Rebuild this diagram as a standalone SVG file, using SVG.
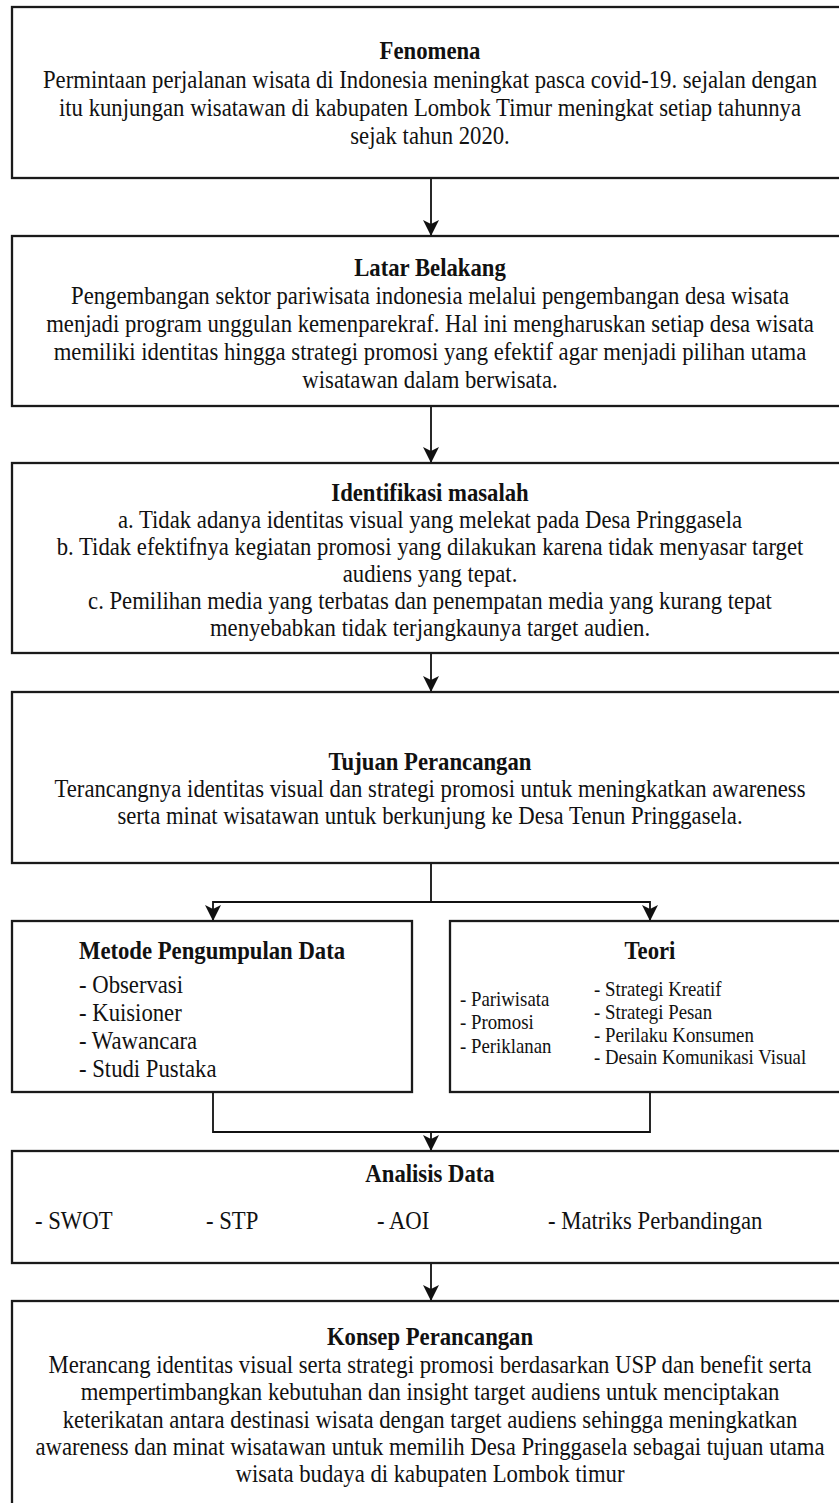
<svg xmlns="http://www.w3.org/2000/svg" width="839" height="1503" viewBox="0 0 839 1503">
<style>
.box{fill:#ffffff;stroke:#1a1a1a;stroke-width:2.3}
.t{font-family:"Liberation Serif","Times New Roman",serif;font-size:24.5px;fill:#111;text-anchor:middle}
.b{font-weight:bold}
.l{text-anchor:start}
.s{font-size:20.3px}
.c{fill:none;stroke:#111;stroke-width:1.8}
</style>
<defs>
<marker id="arr" viewBox="0 0 16 17" refX="16" refY="8" markerWidth="16" markerHeight="17" markerUnits="userSpaceOnUse" orient="auto">
<path d="M0,0 L16,8 L0,16 L4,8 Z" fill="#111"/>
</marker>
</defs>
<rect width="839" height="1503" fill="#ffffff"/>
<g id="connectors">
<path class="c" d="M431,178 V236" marker-end="url(#arr)"/>
<path class="c" d="M431,406 V463" marker-end="url(#arr)"/>
<path class="c" d="M431,653 V692" marker-end="url(#arr)"/>
<path class="c" d="M431,863 V902 H213 V921" marker-end="url(#arr)"/>
<path class="c" d="M431,902 H650 V921" marker-end="url(#arr)"/>
<path class="c" d="M213,1092 V1132 H650 V1092"/>
<path class="c" d="M431,1132 V1151" marker-end="url(#arr)"/>
<path class="c" d="M431,1263 V1301" marker-end="url(#arr)"/>
</g>
<g id="fenomena">
<rect class="box" x="12" y="7" width="836" height="171"/>
<text class="t b" x="0" y="59" transform="matrix(0.927 0 0 1 430 0)">Fenomena</text>
<text class="t" x="0" y="88" transform="matrix(0.927 0 0 1 430 0)">Permintaan perjalanan wisata di Indonesia meningkat pasca covid-19. sejalan dengan</text>
<text class="t" x="0" y="116" transform="matrix(0.927 0 0 1 430 0)">itu kunjungan wisatawan di kabupaten Lombok Timur meningkat setiap tahunnya</text>
<text class="t" x="0" y="144" transform="matrix(0.927 0 0 1 430 0)">sejak tahun 2020.</text>
</g>
<g id="latar">
<rect class="box" x="12" y="236" width="836" height="170"/>
<text class="t b" x="0" y="276" transform="matrix(0.927 0 0 1 430 0)">Latar Belakang</text>
<text class="t" x="0" y="304" transform="matrix(0.927 0 0 1 430 0)">Pengembangan sektor pariwisata indonesia melalui pengembangan desa wisata</text>
<text class="t" x="0" y="332" transform="matrix(0.927 0 0 1 430 0)">menjadi program unggulan kemenparekraf. Hal ini mengharuskan setiap desa wisata</text>
<text class="t" x="0" y="360" transform="matrix(0.927 0 0 1 430 0)">memiliki identitas hingga strategi promosi yang efektif agar menjadi pilihan utama</text>
<text class="t" x="0" y="388" transform="matrix(0.927 0 0 1 430 0)">wisatawan dalam berwisata.</text>
</g>
<g id="identifikasi">
<rect class="box" x="12" y="463" width="836" height="190"/>
<text class="t b" x="0" y="501" transform="matrix(0.927 0 0 1 430 0)">Identifikasi masalah</text>
<text class="t" x="0" y="528" transform="matrix(0.927 0 0 1 430 0)">a. Tidak adanya identitas visual yang melekat pada Desa Pringgasela</text>
<text class="t" x="0" y="555" transform="matrix(0.927 0 0 1 430 0)">b. Tidak efektifnya kegiatan promosi yang dilakukan karena tidak menyasar target</text>
<text class="t" x="0" y="582" transform="matrix(0.927 0 0 1 430 0)">audiens yang tepat.</text>
<text class="t" x="0" y="609" transform="matrix(0.927 0 0 1 430 0)">c. Pemilihan media yang terbatas dan penempatan media yang kurang tepat</text>
<text class="t" x="0" y="636" transform="matrix(0.927 0 0 1 430 0)">menyebabkan tidak terjangkaunya target audien.</text>
</g>
<g id="tujuan">
<rect class="box" x="12" y="692" width="836" height="171"/>
<text class="t b" x="0" y="770" transform="matrix(0.927 0 0 1 430 0)">Tujuan Perancangan</text>
<text class="t" x="0" y="797" transform="matrix(0.927 0 0 1 430 0)">Terancangnya identitas visual dan strategi promosi untuk meningkatkan awareness</text>
<text class="t" x="0" y="824" transform="matrix(0.927 0 0 1 430 0)">serta minat wisatawan untuk berkunjung ke Desa Tenun Pringgasela.</text>
</g>
<g id="metode">
<rect class="box" x="12" y="921" width="400" height="171"/>
<text class="t b" x="0" y="959" transform="matrix(0.927 0 0 1 212 0)">Metode Pengumpulan Data</text>
<text class="t l" x="0" y="993" transform="matrix(0.927 0 0 1 79 0)">- Observasi</text>
<text class="t l" x="0" y="1021" transform="matrix(0.927 0 0 1 79 0)">- Kuisioner</text>
<text class="t l" x="0" y="1049" transform="matrix(0.927 0 0 1 79 0)">- Wawancara</text>
<text class="t l" x="0" y="1077" transform="matrix(0.927 0 0 1 79 0)">- Studi Pustaka</text>
</g>
<g id="teori">
<rect class="box" x="450" y="921" width="400" height="171"/>
<text class="t b" x="0" y="959" transform="matrix(0.927 0 0 1 650 0)">Teori</text>
<text class="t l s" x="0" y="1006" transform="matrix(0.927 0 0 1 460 0)">- Pariwisata</text>
<text class="t l s" x="0" y="1029" transform="matrix(0.927 0 0 1 460 0)">- Promosi</text>
<text class="t l s" x="0" y="1053" transform="matrix(0.927 0 0 1 460 0)">- Periklanan</text>
<text class="t l s" x="0" y="996" transform="matrix(0.927 0 0 1 594 0)">- Strategi Kreatif</text>
<text class="t l s" x="0" y="1019" transform="matrix(0.927 0 0 1 594 0)">- Strategi Pesan</text>
<text class="t l s" x="0" y="1042" transform="matrix(0.927 0 0 1 594 0)">- Perilaku Konsumen</text>
<text class="t l s" x="0" y="1064" transform="matrix(0.927 0 0 1 594 0)">- Desain Komunikasi Visual</text>
</g>
<g id="analisis">
<rect class="box" x="12" y="1151" width="836" height="112"/>
<text class="t b" x="0" y="1182" transform="matrix(0.927 0 0 1 430 0)">Analisis Data</text>
<text class="t l" x="0" y="1229" transform="matrix(0.927 0 0 1 35 0)">- SWOT</text>
<text class="t l" x="0" y="1229" transform="matrix(0.927 0 0 1 206 0)">- STP</text>
<text class="t l" x="0" y="1229" transform="matrix(0.927 0 0 1 377 0)">- AOI</text>
<text class="t l" x="0" y="1229" transform="matrix(0.927 0 0 1 548 0)">- Matriks Perbandingan</text>
</g>
<g id="konsep">
<rect class="box" x="12" y="1301" width="836" height="230"/>
<text class="t b" x="0" y="1345" transform="matrix(0.927 0 0 1 430 0)">Konsep Perancangan</text>
<text class="t" x="0" y="1373" transform="matrix(0.927 0 0 1 430 0)">Merancang identitas visual serta strategi promosi berdasarkan USP dan benefit serta</text>
<text class="t" x="0" y="1400" transform="matrix(0.927 0 0 1 430 0)">mempertimbangkan kebutuhan dan insight target audiens untuk menciptakan</text>
<text class="t" x="0" y="1428" transform="matrix(0.927 0 0 1 430 0)">keterikatan antara destinasi wisata dengan target audiens sehingga meningkatkan</text>
<text class="t" x="0" y="1455" transform="matrix(0.927 0 0 1 430 0)">awareness dan minat wisatawan untuk memilih Desa Pringgasela sebagai tujuan utama</text>
<text class="t" x="0" y="1482" transform="matrix(0.927 0 0 1 430 0)">wisata budaya di kabupaten Lombok timur</text>
</g>
</svg>
